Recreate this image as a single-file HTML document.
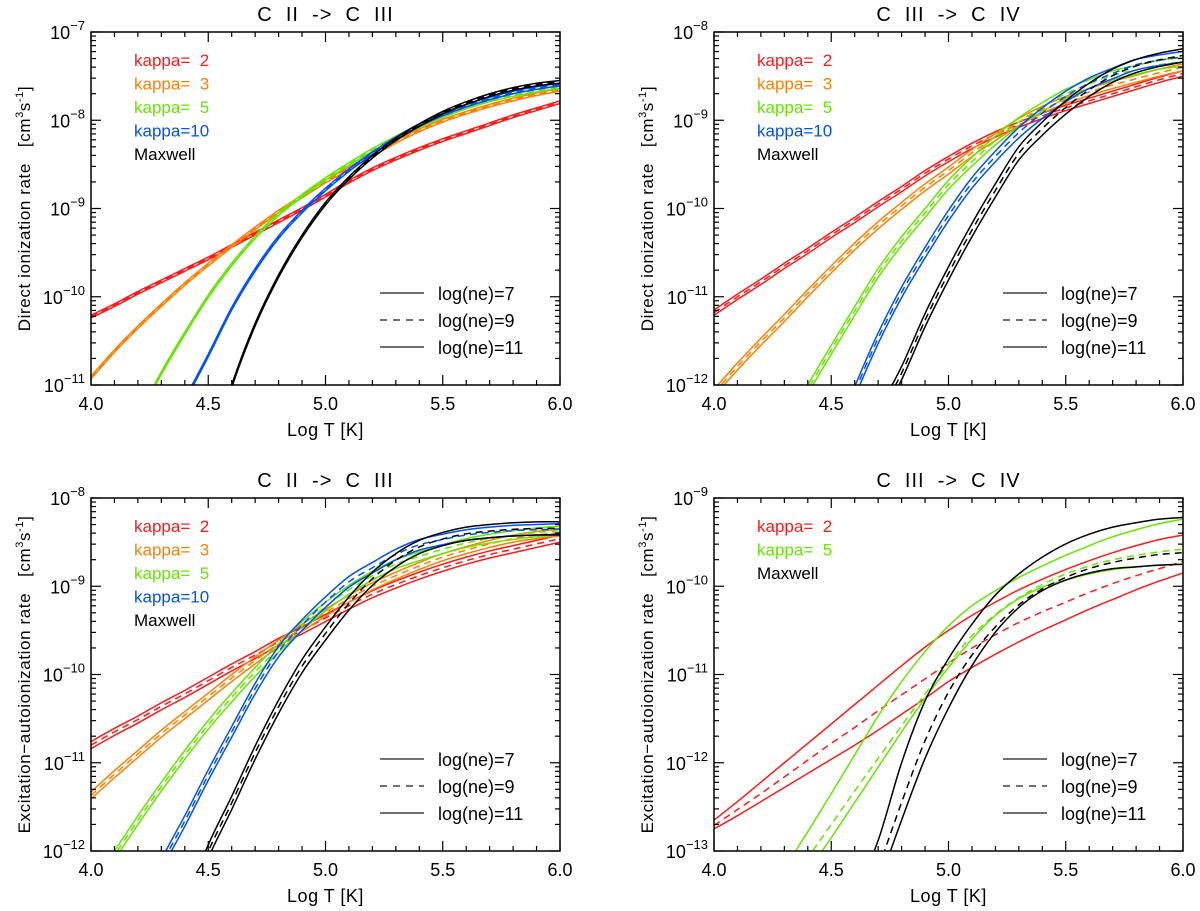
<!DOCTYPE html>
<html><head><meta charset="utf-8"><style>
html,body{margin:0;padding:0;background:#fff;overflow:hidden;}
svg{display:block;font-family:"Liberation Sans",sans-serif;}
text{white-space:pre;}
</style></head><body>
<svg id="fig" width="1200" height="911" viewBox="0 0 1200 911"></svg>
<script>
// ---- shared data ----
const temps = [4.0,4.1,4.2,4.3,4.4,4.5,4.6,4.7,4.8,4.9,5.0,5.1,5.2,5.3,5.4,5.5,5.6,5.7,5.8,5.9,6.0];
const xTickLabels = ["4.0","4.5","5.0","5.5","6.0"];
const kappaNames = ["kappa=  2","kappa=  3","kappa=  5","kappa=10","Maxwell"];
const densLabels = ["log(ne)=7","log(ne)=9","log(ne)=11"];

// Top-left: C II -> C III direct ionization (log10 rate, log ne = 7)
const tlRed    = [-10.21,-10.08,-9.94,-9.81,-9.68,-9.55,-9.41,-9.27,-9.13,-8.99,-8.84,-8.68,-8.54,-8.42,-8.31,-8.21,-8.12,-8.03,-7.94,-7.86,-7.78];
const tlOrange = [-10.90,-10.60,-10.33,-10.08,-9.84,-9.62,-9.41,-9.21,-9.02,-8.85,-8.68,-8.53,-8.38,-8.23,-8.10,-7.99,-7.90,-7.82,-7.75,-7.69,-7.64];
const tlGreen  = [-12.3,-11.8,-11.35,-10.85,-10.40,-9.98,-9.62,-9.31,-9.05,-8.84,-8.65,-8.48,-8.32,-8.18,-8.05,-7.94,-7.84,-7.76,-7.70,-7.65,-7.61];
const tlBlue   = [-13.3,-12.7,-12.1,-11.6,-11.15,-10.65,-10.12,-9.68,-9.31,-9.02,-8.77,-8.55,-8.36,-8.19,-8.04,-7.92,-7.82,-7.74,-7.67,-7.62,-7.58];
const tlBlack  = [-17.5,-16.3,-15.1,-14.0,-12.9,-11.9,-11.0,-10.30,-9.75,-9.30,-8.93,-8.64,-8.40,-8.20,-8.04,-7.90,-7.79,-7.70,-7.63,-7.58,-7.55];
const tlSpread = [0.03,0.03,0.03,0.03,0.03];

// Top-right: C III -> C IV direct ionization
const trRed    = [-11.15,-10.97,-10.80,-10.62,-10.45,-10.27,-10.10,-9.92,-9.75,-9.57,-9.41,-9.26,-9.13,-9.02,-8.92,-8.83,-8.75,-8.67,-8.59,-8.51,-8.44];
const trOrange = [-12.05,-11.75,-11.47,-11.20,-10.92,-10.65,-10.39,-10.15,-9.93,-9.72,-9.53,-9.33,-9.15,-8.98,-8.84,-8.73,-8.64,-8.56,-8.49,-8.42,-8.36];
const trGreen  = [-14.0,-13.5,-13.0,-12.5,-12.0,-11.55,-11.11,-10.68,-10.32,-10.00,-9.68,-9.42,-9.18,-8.97,-8.80,-8.65,-8.54,-8.44,-8.38,-8.32,-8.29];
const trBlue   = [-16.2,-15.5,-14.8,-14.1,-13.4,-12.7,-12.02,-11.41,-10.89,-10.44,-10.02,-9.65,-9.35,-9.08,-8.86,-8.67,-8.52,-8.41,-8.31,-8.26,-8.22];
const trBlack  = [-17.4,-16.6,-15.8,-15.0,-14.3,-13.6,-12.9,-12.3,-11.79,-11.19,-10.66,-10.17,-9.72,-9.30,-9.02,-8.78,-8.58,-8.42,-8.31,-8.24,-8.19];
const trSpread = [0.06,0.08,0.10,0.12,0.15];

// Bottom-left: C II -> C III excitation-autoionization
const blRed    = [-10.76,-10.61,-10.47,-10.32,-10.18,-10.03,-9.88,-9.74,-9.59,-9.46,-9.32,-9.18,-9.05,-8.94,-8.84,-8.75,-8.67,-8.60,-8.54,-8.48,-8.42];
const blOrange = [-11.33,-11.09,-10.86,-10.63,-10.42,-10.21,-10.00,-9.80,-9.61,-9.43,-9.26,-9.10,-8.96,-8.84,-8.73,-8.63,-8.55,-8.48,-8.42,-8.38,-8.35];
const blGreen  = [-12.4,-12.0,-11.6,-11.22,-10.86,-10.52,-10.21,-9.92,-9.65,-9.40,-9.18,-8.99,-8.83,-8.70,-8.61,-8.53,-8.46,-8.41,-8.37,-8.34,-8.32];
const blBlue   = [-13.9,-13.3,-12.7,-12.1,-11.6,-11.08,-10.59,-10.10,-9.68,-9.38,-9.12,-8.89,-8.73,-8.58,-8.47,-8.41,-8.36,-8.33,-8.31,-8.30,-8.29];
const blBlack  = [-15.6,-14.8,-14.0,-13.3,-12.6,-11.93,-11.38,-10.81,-10.29,-9.83,-9.46,-9.12,-8.84,-8.63,-8.48,-8.39,-8.33,-8.30,-8.28,-8.27,-8.27];
const blSpread = [0.08,0.08,0.10,0.12,0.15];

// Bottom-right: C III -> C IV excitation-autoionization (explicit per density)
const brRed7    = [-12.65,-12.44,-12.22,-12.00,-11.78,-11.56,-11.34,-11.12,-10.90,-10.69,-10.50,-10.33,-10.18,-10.04,-9.92,-9.81,-9.71,-9.62,-9.54,-9.47,-9.42];
const brRed9    = [-12.71,-12.53,-12.35,-12.16,-11.97,-11.78,-11.60,-11.41,-11.23,-11.05,-10.87,-10.70,-10.55,-10.41,-10.29,-10.18,-10.07,-9.97,-9.88,-9.80,-9.72];
const brRed11   = [-12.75,-12.60,-12.44,-12.28,-12.12,-11.96,-11.80,-11.63,-11.45,-11.27,-11.08,-10.92,-10.77,-10.63,-10.50,-10.38,-10.26,-10.15,-10.04,-9.94,-9.85];
const brGreen7  = [-14.55,-14.1,-13.65,-13.2,-12.78,-12.35,-11.91,-11.47,-11.08,-10.74,-10.45,-10.22,-10.05,-9.90,-9.77,-9.65,-9.54,-9.44,-9.36,-9.29,-9.24];
const brGreen9  = [-14.7,-14.3,-13.9,-13.5,-13.08,-12.70,-12.32,-11.95,-11.58,-11.22,-10.88,-10.56,-10.32,-10.13,-9.98,-9.86,-9.77,-9.70,-9.65,-9.61,-9.58];
const brGreen11 = [-15.0,-14.6,-14.2,-13.8,-13.25,-12.85,-12.45,-12.05,-11.65,-11.27,-10.92,-10.60,-10.33,-10.14,-10.01,-9.93,-9.86,-9.81,-9.78,-9.76,-9.75];
const brBlack7  = [-17.0,-16.4,-15.8,-15.2,-14.6,-14.0,-13.5,-12.88,-12.00,-11.30,-10.82,-10.43,-10.10,-9.86,-9.67,-9.52,-9.41,-9.33,-9.28,-9.24,-9.22];
const brBlack9  = [-18.0,-17.3,-16.6,-15.9,-15.2,-14.5,-13.9,-13.2,-12.45,-11.75,-11.20,-10.78,-10.46,-10.21,-10.03,-9.90,-9.80,-9.73,-9.68,-9.64,-9.62];
const brBlack11 = [-19.0,-18.2,-17.4,-16.6,-15.8,-15.0,-14.2,-13.4,-12.65,-11.95,-11.38,-10.90,-10.52,-10.24,-10.05,-9.93,-9.85,-9.80,-9.78,-9.76,-9.75];

const COL = {red:"#ff1a1a",orange:"#ff8000",green:"#66e600",blue:"#0050ff",black:"#000000"};
const NS="http://www.w3.org/2000/svg";
const svg=document.getElementById('fig');
function mk(tag,attrs,parent){const e=document.createElementNS(NS,tag);for(const k in attrs)e.setAttribute(k,attrs[k]);(parent||svg).appendChild(e);return e;}

function smoothPath(pts){
  let d='M'+pts[0][0].toFixed(2)+','+pts[0][1].toFixed(2);
  for(let i=0;i<pts.length-1;i++){
    const p0=pts[Math.max(0,i-1)],p1=pts[i],p2=pts[i+1],p3=pts[Math.min(pts.length-1,i+2)];
    const c1x=p1[0]+(p2[0]-p0[0])/6,c1y=p1[1]+(p2[1]-p0[1])/6;
    const c2x=p2[0]-(p3[0]-p1[0])/6,c2y=p2[1]-(p3[1]-p1[1])/6;
    d+=' C'+c1x.toFixed(2)+','+c1y.toFixed(2)+' '+c2x.toFixed(2)+','+c2y.toFixed(2)+' '+p2[0].toFixed(2)+','+p2[1].toFixed(2);
  }
  return d;
}

function panel(p){
  const g=mk('g',{});
  
  
  const L=p.x0,R=p.x1,T=p.y0,B=p.y1;
  const xs=t=>L+(t-4)/2*(R-L);
  const ys=v=>T+(p.ymax-v)/(p.ymax-p.ymin)*(B-T);
  const cp=mk('clipPath',{id:'clip-'+p.id},g);
  mk('rect',{x:L,y:T,width:R-L,height:B-T},cp);
  const tt=mk('text',{x:(L+R)/2,y:T-11,'text-anchor':'middle','font-size':20,'letter-spacing':'1'},g);
  tt.textContent=p.title;
  
  
  const cg=mk('g',{'clip-path':'url(#clip-'+p.id+')'},g);
  p.series.forEach(s=>{
    const pts=temps.map((t,i)=>[xs(t),ys(s.vals[i])]);
    const path=mk('path',{d:smoothPath(pts),fill:'none',stroke:COL[s.color],'stroke-width':1.5},cg);
    if(s.dash) path.setAttribute('stroke-dasharray','7,5');
    
    
  });
  const fr=mk('rect',{x:L,y:T,width:R-L,height:B-T,fill:'none',stroke:'#000','stroke-width':1.5},g);
  
  
  const tk=mk('g',{stroke:'#000','stroke-width':1.2},g);
  for(let i=0;i<=20;i++){
    const t=4+i*0.1,x=xs(t),len=(i%5===0)?10:5;
    mk('line',{x1:x,y1:B,x2:x,y2:B-len},tk);
    mk('line',{x1:x,y1:T,x2:x,y2:T+len},tk);
  }
  xTickLabels.forEach((lab,i)=>{
    const e=mk('text',{x:xs(4+i*0.5),y:B+25,'text-anchor':'middle','font-size':18},g);
    e.textContent=lab;
    
    
  });
  const xt=mk('text',{x:(L+R)/2,y:B+51,'text-anchor':'middle','font-size':18,'letter-spacing':'0.5'},g);
  xt.textContent='Log T [K]';
  
  
  for(let dec=p.ymin;dec<=p.ymax;dec++){
    const y=ys(dec);
    mk('line',{x1:L,y1:y,x2:L+10,y2:y},tk);
    mk('line',{x1:R,y1:y,x2:R-10,y2:y},tk);
    const e=mk('text',{x:L-6,y:y+7,'text-anchor':'end','font-size':18},g);
    
    
    const t1=mk('tspan',{},e);t1.textContent='10';
    const t2=mk('tspan',{dy:-9,'font-size':13},e);t2.textContent='\u2212'+(-dec);
    if(dec<p.ymax){for(let m=2;m<=9;m++){const ym=ys(dec+Math.log10(m));
      mk('line',{x1:L,y1:ym,x2:L+5,y2:ym},tk);mk('line',{x1:R,y1:ym,x2:R-5,y2:ym},tk);}}
  }
  const cy=(T+B)/2;
  const yt=mk('text',{x:0,y:0,transform:`translate(${L-61},${cy}) rotate(-90)`,'text-anchor':'middle','font-size':17,'letter-spacing':'0.6'},g);
  
  
  const a=mk('tspan',{},yt);a.textContent=p.ytitle+'   [cm';
  const b=mk('tspan',{dy:-7,'font-size':11},yt);b.textContent='3';
  const c=mk('tspan',{dy:7},yt);c.textContent='s';
  const d2=mk('tspan',{dy:-7,'font-size':11},yt);d2.textContent='-1';
  const e2=mk('tspan',{dy:7},yt);e2.textContent=']';
  p.legend.forEach((k,i)=>{
    const e=mk('text',{x:L+43,y:T+34+i*23.5,'font-size':17,fill:COL[k.color]},g);
    e.textContent=k.label;
    
    
  });
  densLabels.forEach((lab,i)=>{
    const y=T+261+i*27;
    const ln=mk('line',{x1:R-180,y1:y,x2:R-136,y2:y,stroke:'#444','stroke-width':1.5},g);
    if(i===1) ln.setAttribute('stroke-dasharray','7,6');
    
    
    const e=mk('text',{x:R-122,y:y+7,'font-size':18},g);
    e.textContent=lab;
    
    
  });
}

function spreadSeries(arrs,spread){
  const names=['red','orange','green','blue','black'];
  const out=[];
  arrs.forEach((a,k)=>{
    out.push({name:names[k]+'-ne7',color:names[k],vals:a});
    out.push({name:names[k]+'-ne9',color:names[k],dash:true,vals:a.map(v=>v-spread[k]/2)});
    out.push({name:names[k]+'-ne11',color:names[k],vals:a.map(v=>v-spread[k])});
  });
  return out;
}
const legend5=kappaNames.map((l,i)=>({label:l,color:['red','orange','green','blue','black'][i]}));

panel({id:'panel-c2-direct',x0:91,x1:560,y0:32,y1:385,ymin:-11,ymax:-7,title:'C  II  ->  C  III',ytitle:'Direct ionization rate',
  series:spreadSeries([tlRed,tlOrange,tlGreen,tlBlue,tlBlack],tlSpread),legend:legend5});
panel({id:'panel-c3-direct',x0:714,x1:1183,y0:32,y1:385,ymin:-12,ymax:-8,title:'C  III  ->  C  IV',ytitle:'Direct ionization rate',
  series:spreadSeries([trRed,trOrange,trGreen,trBlue,trBlack],trSpread),legend:legend5});
panel({id:'panel-c2-ea',x0:91,x1:560,y0:498,y1:851,ymin:-12,ymax:-8,title:'C  II  ->  C  III',ytitle:'Excitation\u2212autoionization rate',
  series:spreadSeries([blRed,blOrange,blGreen,blBlue,blBlack],blSpread),legend:legend5});
panel({id:'panel-c3-ea',x0:714,x1:1183,y0:498,y1:851,ymin:-13,ymax:-9,title:'C  III  ->  C  IV',ytitle:'Excitation\u2212autoionization rate',
  series:[
    {name:'red-ne7',color:'red',vals:brRed7},{name:'red-ne9',color:'red',dash:true,vals:brRed9},{name:'red-ne11',color:'red',vals:brRed11},
    {name:'green-ne7',color:'green',vals:brGreen7},{name:'green-ne9',color:'green',dash:true,vals:brGreen9},{name:'green-ne11',color:'green',vals:brGreen11},
    {name:'black-ne7',color:'black',vals:brBlack7},{name:'black-ne9',color:'black',dash:true,vals:brBlack9},{name:'black-ne11',color:'black',vals:brBlack11}],
  legend:[{label:'kappa=  2',color:'red'},{label:'kappa=  5',color:'green'},{label:'Maxwell',color:'black'}]});
</script>
</body></html>
